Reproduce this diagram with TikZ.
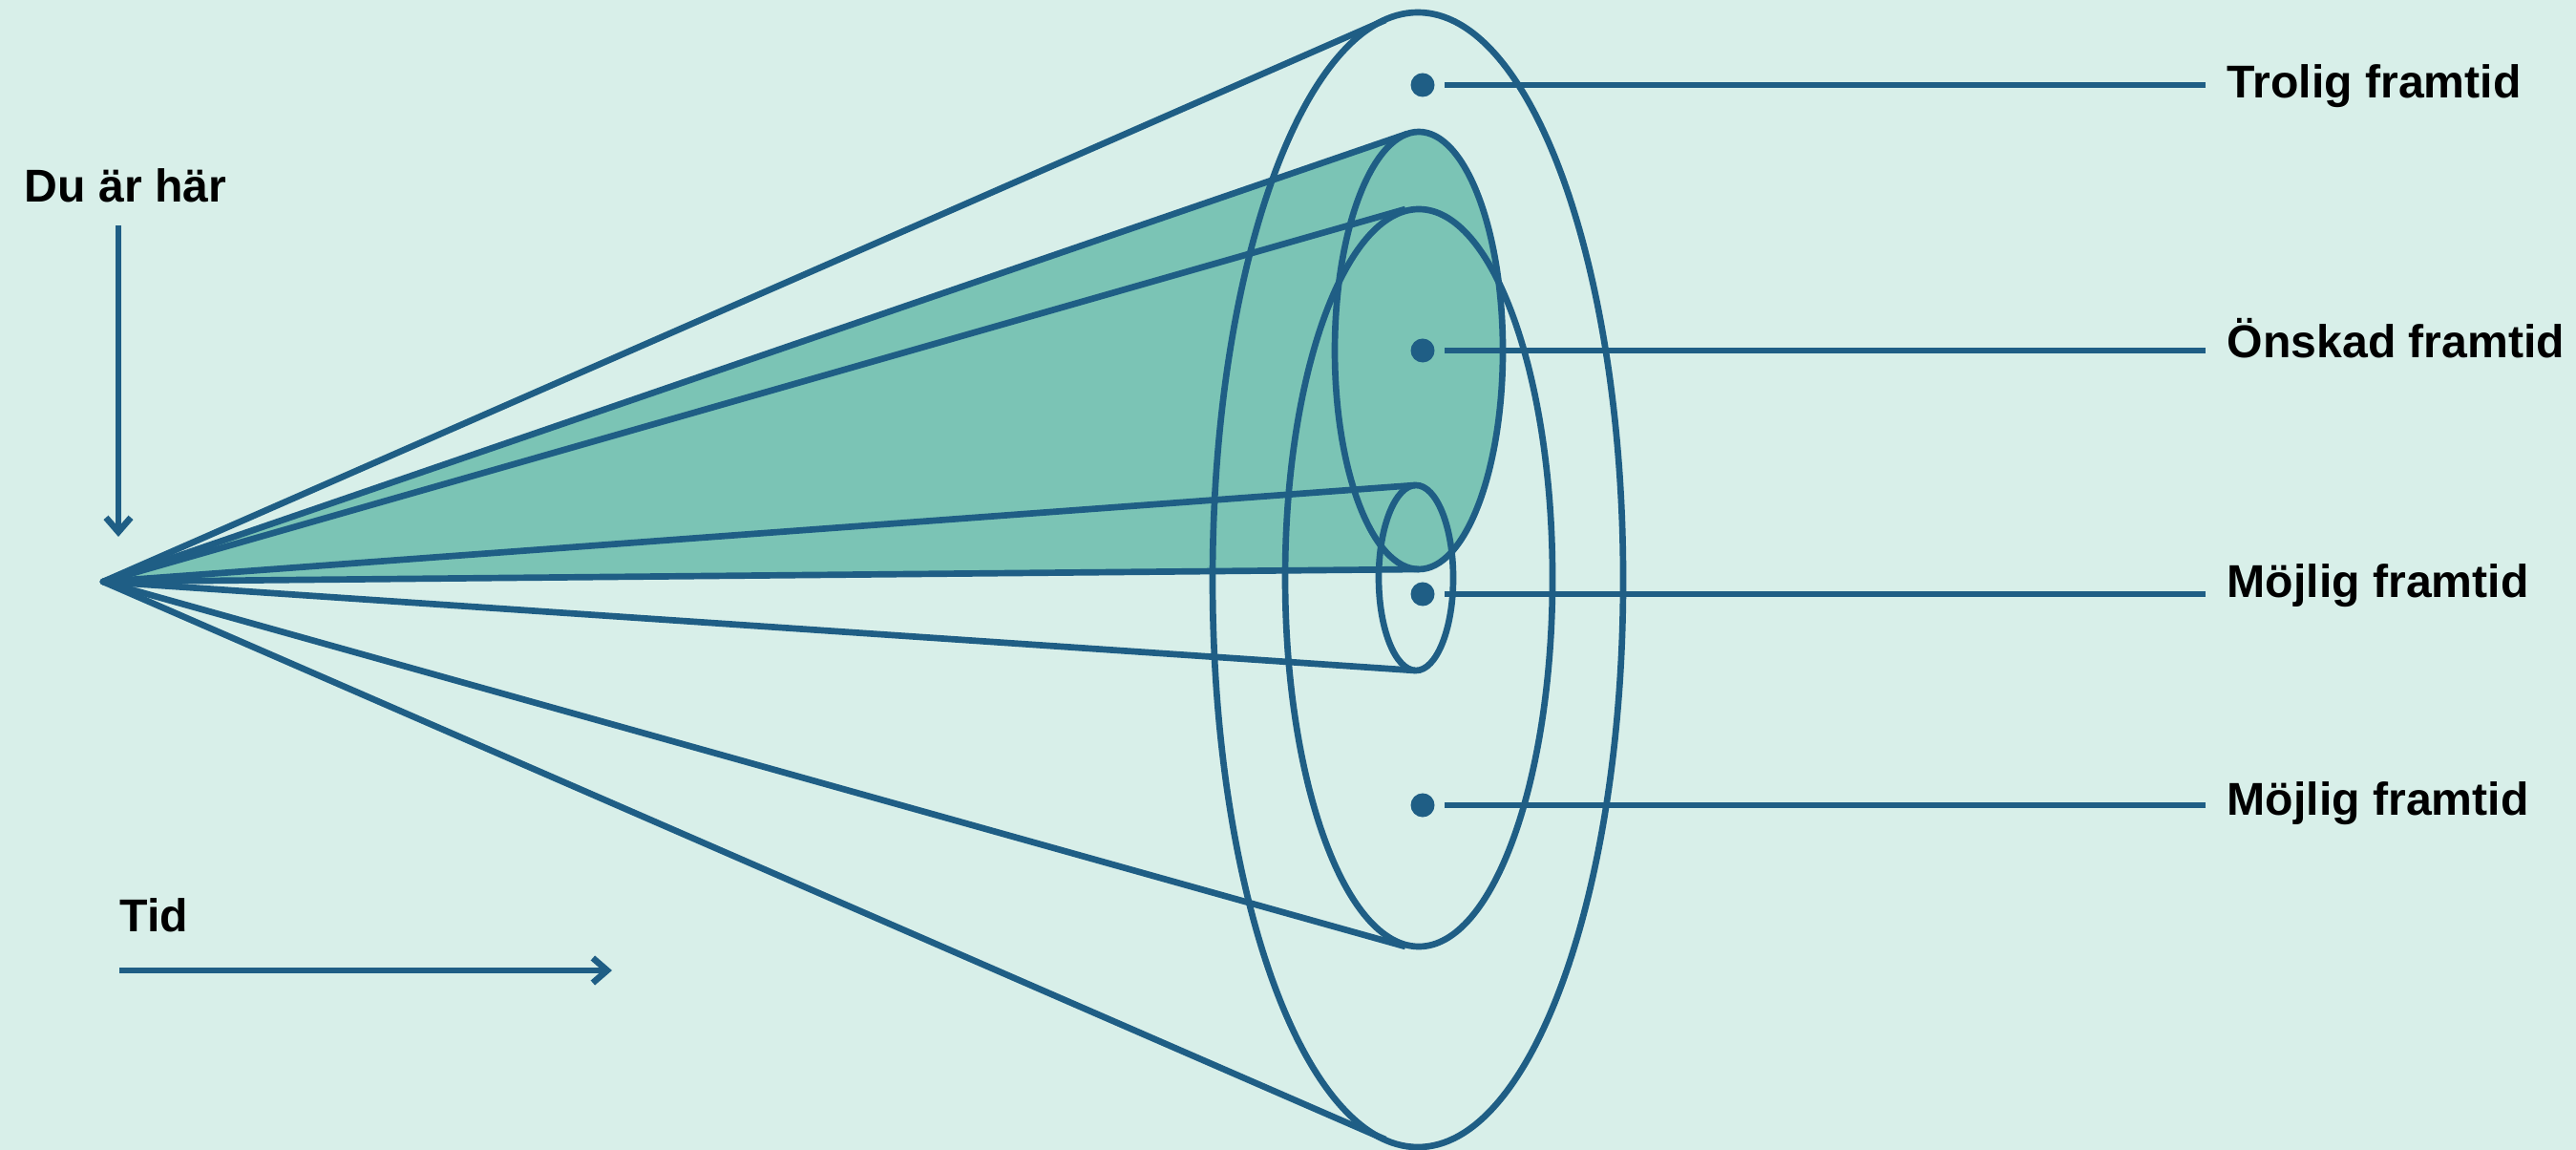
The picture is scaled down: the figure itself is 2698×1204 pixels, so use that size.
\documentclass[tikz,border=0pt]{standalone}
\usepackage{fontspec}
\setmainfont{Liberation Sans}
\usepackage{tikz}
\usetikzlibrary{arrows.meta,positioning}
\definecolor{futureBlue}{HTML}{1F5E85}
\definecolor{futureMint}{HTML}{D8EFE9}
\definecolor{futureGreen}{HTML}{7BC4B5}

\begin{document}
\begin{tikzpicture}[
        x=0.01cm, y=-0.01cm,
        font=\bfseries\fontsize{13.7}{16}\selectfont,
        rim/.style={draw=futureBlue, line width=1.9pt},
        ray/.style={draw=futureBlue, line width=1.9pt, line join=round},
        dot/.style={circle, fill=futureBlue, inner sep=0pt, minimum size=0.25cm},
        lbl/.style={anchor=base west, inner sep=0pt, text=black},
        leader/.style={draw=futureBlue, line width=1.9pt, shorten <=0.1cm, shorten >=0.22cm},
        arr/.style={-{Straight Barb[length=1.5mm, width=2.6mm]}, draw=futureBlue, line width=1.9pt}
    ]
        % --- background ---
        \fill[futureMint] (0,0) rectangle (2698,1204);
        \useasboundingbox (0,0) rectangle (2698,1204);

        % --- cone: apex and ellipse centres ---
        \coordinate (apex) at (108,609);
        \coordinate (outer) at (1485,607);
        \coordinate (wide) at (1486,605);
        \coordinate (wish) at (1486,367);
        \coordinate (small) at (1483,605);

        % --- tangent points ---
        \coordinate (outerTop) at (1451,21);
        \coordinate (outerBot) at (1451,1193);
        \coordinate (wideTop) at (1472,219);
        \coordinate (wideBot) at (1472,991);
        \coordinate (wishTop) at (1474,140);
        \coordinate (wishBot) at (1486,596);
        \coordinate (smallTop) at (1482,508);
        \coordinate (smallBot) at (1482,702);

        % --- green cone of the wished future ---
        \fill[futureGreen] (apex) -- (wishTop) -- (wishBot) -- cycle;
        \fill[futureGreen] (wish) ellipse [x radius=88, y radius=229];

        % --- rays from here ---
        \draw[ray] (outerTop) -- (apex) -- (outerBot);
        \draw[ray] (wideTop) -- (apex) -- (wideBot);
        \draw[ray] (wishTop) -- (apex) -- (wishBot);
        \draw[ray] (smallTop) -- (apex) -- (smallBot);

        % --- ellipses ---
        \draw[rim] (outer) ellipse [x radius=215, y radius=594];
        \draw[rim] (wide) ellipse [x radius=140, y radius=386];
        \draw[rim] (wish) ellipse [x radius=88, y radius=229];
        \draw[rim] (small) ellipse [x radius=39, y radius=97];

        % --- futures ---
        \node[dot] (d1) at (1490,89) {};
        \node[dot] (d2) at (1490,367) {};
        \node[dot] (d3) at (1490,622) {};
        \node[dot] (d4) at (1490,843) {};

        \node[lbl] (probable) at (2332,103) {Trolig framtid};
        \node[lbl] (desired) at (2332,375) {Önskad framtid};
        \node[lbl] (possibleA) at (2332,626) {Möjlig framtid};
        \node[lbl] (possibleB) at (2332,853) {Möjlig framtid};

        \draw[leader] (d1) -- (d1 -| probable.west);
        \draw[leader] (d2) -- (d2 -| desired.west);
        \draw[leader] (d3) -- (d3 -| possibleA.west);
        \draw[leader] (d4) -- (d4 -| possibleB.west);

        % --- you are here / time ---
        \node[lbl] (here) at (25,212) {Du är här};
        \coordinate (nowStart) at (124,236);
        \coordinate (nowEnd) at (124,562);
        \draw[arr] (nowStart) -- (nowEnd);

        \node[lbl] (time) at (125,975) {Tid};
        \coordinate (timeStart) at (125,1016);
        \coordinate (timeEnd) at (641,1016);
        \draw[arr] (timeStart) -- (timeEnd);
    \end{tikzpicture}
\end{document}
